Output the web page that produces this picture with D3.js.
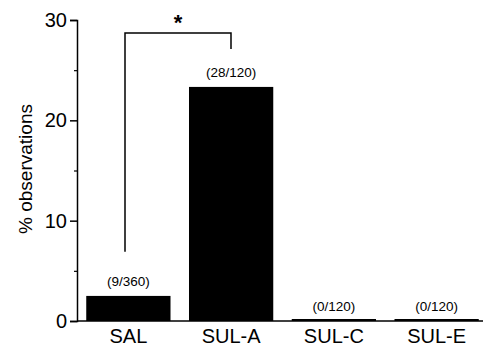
<!DOCTYPE html>
<html>
<head>
<meta charset="utf-8">
<script src="https://cdn.jsdelivr.net/npm/d3@7"></script>
<style>
  body { margin: 0; background: #fff; }
  text { font-family: Arial, "Liberation Sans", sans-serif; fill: #000; }
</style>
</head>
<body>
<script>
"use strict";

const width = 483;
const height = 348;

// data
const categories = ["SAL", "SUL-A", "SUL-C", "SUL-E"];
const percents = [2.5, 23.33, 0, 0];
const counts = ["(9/360)", "(28/120)", "(0/120)", "(0/120)"];
const yTicks = [0, 10, 20, 30];
const yMinorTicks = [5, 15, 25];
// significance bracket between SAL and SUL-A (y in % units)
const bracketPair = ["SAL", "SUL-A"];
const bracketLevels = { top: 28.7, left: 6.9, right: 27.1 };

let svg = d3.select("body").append("svg")
    .attr("width", width)
    .attr("height", height);

let x = d3.scaleBand()
    .domain(categories)
    .range([77, 488])
    .paddingInner(0.18)
    .paddingOuter(0.09);

let y = d3.scaleLinear()
    .domain([0, 30])
    .range([321, 20]);

// bars
svg.selectAll("rect.bar")
    .data(categories)
    .enter()
    .append("rect")
    .attr("class", "bar")
    .attr("x", d => x(d))
    .attr("width", x.bandwidth())
    .attr("y", (d, i) => Math.min(y(percents[i]), y(0) - 2))
    .attr("height", (d, i) => Math.max(y(0) - y(percents[i]), 2))
    .style("fill", "#000");

// count labels
svg.selectAll("text.count")
    .data(categories)
    .enter()
    .append("text")
    .attr("class", "count")
    .attr("x", d => x(d) + x.bandwidth() / 2)
    .attr("y", (d, i) => y(percents[i]) - 10)
    .attr("text-anchor", "middle")
    .style("font-size", "13.5px")
    .text((d, i) => counts[i]);

// x axis line
svg.append("line")
    .attr("x1", 77).attr("x2", 483)
    .attr("y1", y(0)).attr("y2", y(0))
    .style("stroke", "#000")
    .style("stroke-width", 1.5);

// y axis
let yAxis = svg.append("g")
    .attr("transform", "translate(77,0)")
    .call(d3.axisLeft(y).tickValues(yTicks).tickSize(7).tickPadding(3));
yAxis.select(".domain").style("stroke-width", 1.5);
yAxis.selectAll(".tick line").style("stroke-width", 1.5);
yAxis.selectAll(".tick text")
    .style("font-size", "20px")
    .style("font-family", "Arial, 'Liberation Sans', sans-serif");

svg.append("g")
    .attr("transform", "translate(77,0)")
    .call(d3.axisLeft(y).tickValues(yMinorTicks).tickSize(3).tickFormat(""))
    .call(g => g.select(".domain").remove())
    .selectAll(".tick line").style("stroke-width", 1.2);

// x labels
svg.selectAll("text.cat")
    .data(categories)
    .enter()
    .append("text")
    .attr("class", "cat")
    .attr("x", d => x(d) + x.bandwidth() / 2)
    .attr("y", 343)
    .attr("text-anchor", "middle")
    .style("font-size", "20px")
    .text(d => d);

// y title
svg.append("text")
    .attr("transform", "translate(32,169) rotate(-90)")
    .attr("text-anchor", "middle")
    .style("font-size", "19px")
    .text("% observations");

// bracket
let bx1 = 125;
let bx2 = x(bracketPair[1]) + 42;
svg.append("path")
    .attr("d", `M${bx1},${y(bracketLevels.left)}V${y(bracketLevels.top)}H${bx2}V${y(bracketLevels.right)}`)
    .style("fill", "none")
    .style("stroke", "#000")
    .style("stroke-width", 1.5);

svg.append("text")
    .attr("x", (bx1 + bx2) / 2)
    .attr("y", 30)
    .attr("text-anchor", "middle")
    .style("font-size", "22px")
    .style("font-weight", "bold")
    .text("*");
</script>
</body>
</html>
